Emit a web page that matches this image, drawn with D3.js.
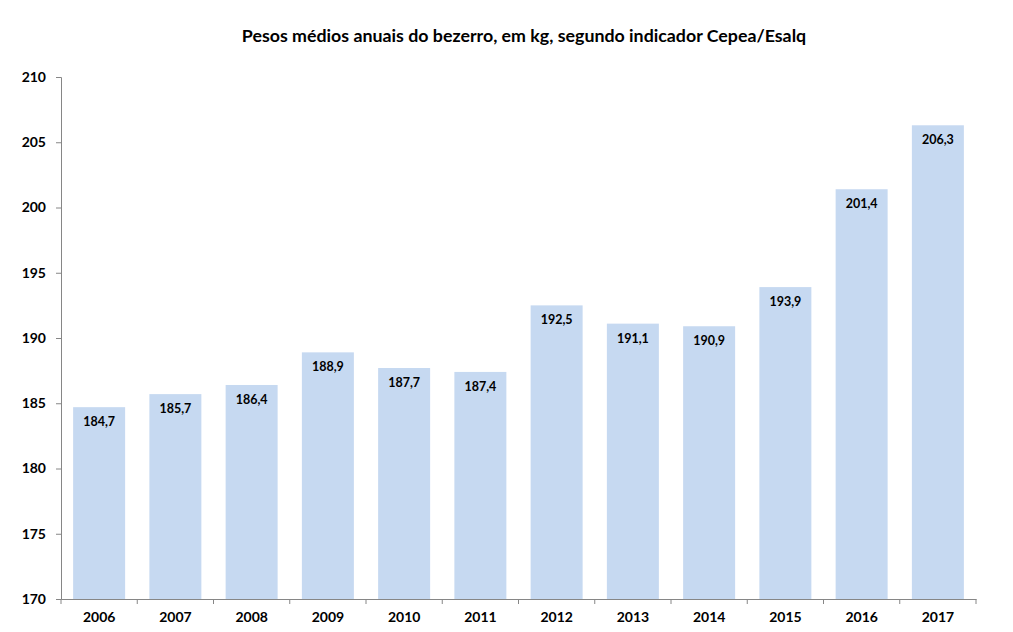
<!DOCTYPE html>
<html>
<head>
<meta charset="utf-8">
<script src="https://cdn.jsdelivr.net/npm/d3@7"></script>
<style>
  body { margin: 0; background: white; }
  text { font-family: Lato, "Open Sans", sans-serif; font-weight: bold; fill: #000; }
</style>
</head>
<body>
<div id="container"></div>
<script>
/* CONSTANTS AND GLOBALS */
const width = 1013;
const height = 632;
const margin = { top: 77, right: 37, bottom: 33, left: 61 };

/* DATA */
const years = ["2006", "2007", "2008", "2009", "2010", "2011", "2012", "2013", "2014", "2015", "2016", "2017"];
const weights = [184.7, 185.7, 186.4, 188.9, 187.7, 187.4, 192.5, 191.1, 190.9, 193.9, 201.4, 206.3];
const yTicks = [170, 175, 180, 185, 190, 195, 200, 205, 210];
const title = "Pesos médios anuais do bezerro, em kg, segundo indicador Cepea/Esalq";

const data = years.map((y, i) => ({ year: y, value: weights[i] }));

const svg = d3.select("#container")
  .append("svg")
  .attr("width", width)
  .attr("height", height)
  .style("background-color", "white");

/* SCALES */
const xScale = d3.scaleBand()
  .domain(years)
  .range([margin.left, width - margin.right])
  .paddingInner(0.318)
  .paddingOuter(0.159);

const yScale = d3.scaleLinear()
  .domain([170, 210])
  .range([height - margin.bottom, margin.top]);

/* BARS */
svg.selectAll(".bar")
  .data(data)
  .join("rect")
  .attr("class", "bar")
  .attr("x", d => xScale(d.year))
  .attr("y", d => yScale(d.value))
  .attr("width", xScale.bandwidth())
  .attr("height", d => yScale(170) - yScale(d.value))
  .attr("fill", "#c6d9f1");

svg.selectAll(".label")
  .data(data)
  .join("text")
  .attr("class", "label")
  .attr("x", d => xScale(d.year) + xScale.bandwidth() / 2)
  .attr("y", d => yScale(d.value) + 19)
  .attr("text-anchor", "middle")
  .style("font-size", "12.5px")
  .text(d => d3.format(".1f")(d.value).replace(".", ","));

/* AXES */
svg.append("g")
  .attr("transform", `translate(${margin.left},0)`)
  .call(d3.axisLeft(yScale).tickValues(yTicks).tickSize(5).tickPadding(10).tickFormat(d3.format("d")));

// x axis: ticks at category boundaries
const xAxis = svg.append("g")
  .attr("transform", `translate(0,${height - margin.bottom})`)
  .call(d3.axisBottom(xScale).tickSize(0).tickPadding(13));

const step = xScale.step();
xAxis.selectAll(".bound")
  .data(d3.range(years.length + 1))
  .join("line")
  .attr("class", "bound")
  .attr("x1", i => margin.left + i * step)
  .attr("x2", i => margin.left + i * step)
  .attr("y1", 0)
  .attr("y2", 5);

svg.selectAll(".domain, .tick line, .bound")
  .attr("stroke", "#868686")
  .attr("stroke-width", 1);

svg.selectAll(".tick text")
  .style("font-size", "14px")
  .style("font-family", "Lato, 'Open Sans', sans-serif")
  .style("font-weight", "bold")
  .attr("fill", "#000");

/* TITLE */
svg.append("text")
  .attr("x", 524)
  .attr("y", 42)
  .attr("text-anchor", "middle")
  .style("font-size", "17.8px")
  .text(title);
</script>
</body>
</html>
